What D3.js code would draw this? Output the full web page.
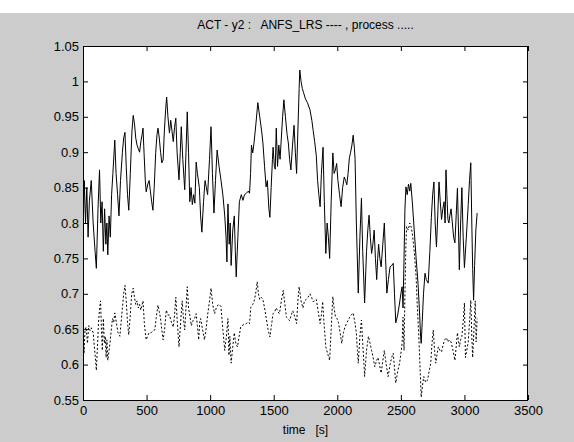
<!DOCTYPE html>
<html>
<head>
<meta charset="utf-8">
<script src="https://cdn.jsdelivr.net/npm/d3@7/dist/d3.min.js"></script>
<style>
  html, body { margin: 0; padding: 0; background: #ffffff; }
  svg { display: block; }
  text { font-family: "Liberation Sans", Arial, Helvetica, sans-serif; }
</style>
</head>
<body>
<svg id="chart" width="574" height="442"></svg>
<script>
// ---------- DATA ----------
const titleText = "ACT - y2 :   ANFS_LRS ---- , process .....";
const xLabelText = "time   [s]";
const xTicks = [0, 500, 1000, 1500, 2000, 2500, 3000, 3500];
const yTicks = [0.55, 0.6, 0.65, 0.7, 0.75, 0.8, 0.85, 0.9, 0.95, 1, 1.05];

// ANFS_LRS (solid) : [time, value]
const anfs = [[0,0.78],[10,0.86],[20,0.80],[30,0.85],[40,0.78],[50,0.83],[65,0.86],[80,0.80],[95,0.76],[105,0.736],[118,0.82],[130,0.875],[140,0.80],[150,0.83],[160,0.76],[170,0.82],[180,0.77],[188,0.80],[195,0.755],[205,0.81],[215,0.78],[225,0.84],[235,0.87],[250,0.917],[260,0.87],[272,0.84],[283,0.81],[295,0.86],[310,0.90],[320,0.92],[330,0.928],[340,0.88],[350,0.84],[360,0.818],[372,0.87],[385,0.93],[395,0.952],[405,0.94],[415,0.92],[425,0.91],[435,0.905],[445,0.90],[455,0.915],[465,0.925],[472,0.934],[480,0.90],[490,0.86],[497,0.844],[510,0.855],[520,0.86],[530,0.845],[540,0.83],[550,0.818],[560,0.85],[572,0.90],[582,0.925],[590,0.934],[600,0.92],[610,0.90],[620,0.885],[630,0.889],[640,0.93],[650,0.96],[658,0.978],[668,0.95],[680,0.927],[690,0.945],[700,0.93],[710,0.915],[720,0.935],[730,0.948],[740,0.90],[755,0.861],[765,0.90],[773,0.936],[785,0.89],[800,0.847],[810,0.90],[820,0.957],[830,0.90],[840,0.83],[850,0.85],[860,0.826],[870,0.84],[880,0.828],[890,0.886],[900,0.87],[915,0.85],[925,0.81],[935,0.787],[948,0.83],[960,0.86],[970,0.85],[980,0.84],[995,0.89],[1007,0.936],[1018,0.87],[1030,0.814],[1042,0.86],[1055,0.903],[1070,0.88],[1085,0.861],[1100,0.84],[1115,0.81],[1125,0.78],[1132,0.745],[1140,0.827],[1150,0.77],[1158,0.80],[1165,0.74],[1178,0.79],[1190,0.81],[1198,0.76],[1205,0.724],[1218,0.78],[1230,0.83],[1245,0.84],[1258,0.832],[1270,0.84],[1285,0.842],[1300,0.845],[1310,0.842],[1318,0.87],[1325,0.91],[1335,0.899],[1345,0.913],[1360,0.94],[1375,0.97],[1390,0.95],[1405,0.93],[1415,0.913],[1428,0.88],[1440,0.851],[1450,0.86],[1462,0.82],[1470,0.808],[1480,0.85],[1490,0.89],[1495,0.907],[1505,0.88],[1512,0.876],[1520,0.934],[1530,0.88],[1540,0.91],[1550,0.89],[1560,0.92],[1570,0.95],[1580,0.974],[1592,0.95],[1605,0.925],[1615,0.913],[1625,0.89],[1635,0.875],[1648,0.91],[1660,0.938],[1670,0.90],[1680,0.87],[1690,0.93],[1700,0.99],[1705,1.016],[1715,1.0],[1725,0.99],[1735,0.984],[1750,0.975],[1765,0.97],[1785,0.96],[1800,0.945],[1810,0.931],[1822,0.915],[1835,0.895],[1845,0.86],[1855,0.84],[1865,0.823],[1875,0.87],[1888,0.907],[1898,0.83],[1910,0.757],[1920,0.80],[1930,0.78],[1940,0.75],[1952,0.83],[1965,0.899],[1975,0.87],[1985,0.875],[1995,0.884],[2005,0.86],[2018,0.84],[2030,0.823],[2042,0.85],[2055,0.865],[2065,0.86],[2075,0.854],[2085,0.87],[2095,0.892],[2105,0.90],[2115,0.91],[2125,0.924],[2135,0.905],[2140,0.89],[2150,0.80],[2165,0.701],[2178,0.78],[2190,0.835],[2200,0.76],[2215,0.687],[2230,0.76],[2240,0.79],[2250,0.811],[2260,0.78],[2270,0.757],[2280,0.77],[2290,0.79],[2300,0.75],[2310,0.72],[2318,0.75],[2325,0.77],[2335,0.75],[2345,0.738],[2358,0.77],[2370,0.80],[2380,0.75],[2390,0.701],[2402,0.72],[2415,0.738],[2428,0.74],[2440,0.743],[2450,0.70],[2460,0.659],[2475,0.67],[2490,0.687],[2500,0.70],[2510,0.71],[2517,0.68],[2525,0.75],[2532,0.82],[2540,0.851],[2550,0.84],[2560,0.855],[2570,0.845],[2578,0.856],[2590,0.83],[2605,0.79],[2620,0.75],[2635,0.715],[2648,0.67],[2655,0.64],[2660,0.63],[2668,0.66],[2678,0.70],[2690,0.729],[2700,0.72],[2715,0.715],[2728,0.76],[2740,0.808],[2750,0.84],[2760,0.858],[2770,0.80],[2780,0.766],[2790,0.81],[2800,0.858],[2810,0.83],[2820,0.805],[2830,0.82],[2840,0.83],[2848,0.80],[2855,0.875],[2862,0.84],[2870,0.805],[2878,0.80],[2885,0.81],[2895,0.82],[2905,0.80],[2915,0.78],[2925,0.772],[2935,0.81],[2945,0.849],[2952,0.80],[2960,0.734],[2970,0.80],[2980,0.85],[2990,0.78],[3000,0.737],[3015,0.78],[3030,0.826],[3040,0.86],[3050,0.885],[3058,0.80],[3065,0.734],[3072,0.691],[3080,0.74],[3090,0.79],[3100,0.814]];

// process (dotted) : [time, value]
const proc = [[0,0.644],[8,0.616],[16,0.65],[25,0.653],[35,0.63],[45,0.655],[55,0.648],[65,0.652],[80,0.645],[92,0.62],[105,0.592],[115,0.63],[122,0.66],[130,0.677],[138,0.69],[145,0.65],[152,0.62],[160,0.665],[168,0.63],[175,0.64],[182,0.61],[188,0.635],[195,0.606],[205,0.62],[212,0.63],[220,0.645],[232,0.665],[242,0.66],[250,0.673],[262,0.66],[275,0.645],[290,0.64],[300,0.66],[310,0.68],[320,0.70],[330,0.712],[340,0.69],[350,0.66],[360,0.642],[372,0.67],[383,0.70],[395,0.708],[405,0.695],[415,0.685],[425,0.69],[435,0.68],[445,0.685],[455,0.677],[465,0.685],[472,0.69],[482,0.66],[490,0.645],[497,0.635],[508,0.64],[520,0.645],[535,0.645],[550,0.648],[565,0.649],[575,0.665],[590,0.684],[600,0.675],[610,0.665],[620,0.649],[630,0.635],[642,0.65],[655,0.677],[668,0.67],[680,0.67],[695,0.66],[710,0.653],[720,0.67],[730,0.695],[742,0.66],[755,0.625],[768,0.66],[780,0.69],[790,0.665],[800,0.649],[810,0.68],[820,0.71],[830,0.68],[840,0.67],[852,0.655],[865,0.662],[878,0.665],[890,0.672],[900,0.655],[910,0.635],[918,0.66],[925,0.665],[940,0.65],[955,0.635],[968,0.65],[980,0.67],[995,0.69],[1007,0.708],[1020,0.685],[1035,0.672],[1048,0.68],[1060,0.684],[1072,0.685],[1085,0.682],[1100,0.65],[1115,0.62],[1128,0.64],[1140,0.665],[1148,0.613],[1155,0.64],[1165,0.602],[1178,0.625],[1190,0.645],[1202,0.63],[1215,0.625],[1228,0.64],[1240,0.653],[1258,0.656],[1272,0.657],[1285,0.658],[1300,0.66],[1310,0.658],[1320,0.681],[1335,0.685],[1345,0.689],[1358,0.70],[1370,0.717],[1380,0.70],[1390,0.692],[1402,0.695],[1415,0.692],[1428,0.68],[1440,0.667],[1455,0.65],[1470,0.639],[1482,0.655],[1495,0.672],[1508,0.675],[1520,0.68],[1532,0.675],[1545,0.672],[1560,0.69],[1575,0.705],[1588,0.685],[1600,0.667],[1612,0.665],[1625,0.662],[1638,0.67],[1650,0.676],[1665,0.668],[1680,0.658],[1690,0.69],[1700,0.71],[1715,0.69],[1730,0.68],[1742,0.69],[1755,0.692],[1770,0.695],[1785,0.70],[1798,0.695],[1810,0.689],[1822,0.69],[1835,0.692],[1850,0.675],[1865,0.658],[1875,0.67],[1885,0.689],[1895,0.66],[1910,0.625],[1925,0.615],[1940,0.606],[1952,0.65],[1965,0.696],[1975,0.68],[1985,0.668],[1998,0.665],[2010,0.659],[2022,0.645],[2035,0.63],[2048,0.645],[2060,0.653],[2078,0.66],[2095,0.666],[2110,0.67],[2125,0.673],[2138,0.66],[2150,0.645],[2158,0.62],[2165,0.602],[2178,0.64],[2190,0.663],[2200,0.63],[2210,0.60],[2215,0.583],[2230,0.62],[2245,0.64],[2258,0.63],[2270,0.62],[2282,0.61],[2295,0.597],[2308,0.605],[2320,0.61],[2332,0.60],[2345,0.588],[2358,0.605],[2370,0.62],[2385,0.60],[2400,0.583],[2415,0.60],[2428,0.61],[2440,0.616],[2450,0.595],[2460,0.574],[2475,0.59],[2490,0.602],[2500,0.615],[2510,0.63],[2517,0.667],[2525,0.62],[2532,0.70],[2540,0.77],[2545,0.795],[2558,0.79],[2570,0.80],[2580,0.795],[2590,0.786],[2605,0.76],[2620,0.724],[2630,0.68],[2640,0.645],[2650,0.60],[2660,0.554],[2670,0.57],[2680,0.583],[2695,0.575],[2710,0.578],[2722,0.59],[2735,0.602],[2745,0.63],[2755,0.649],[2765,0.62],[2775,0.602],[2785,0.615],[2795,0.625],[2808,0.62],[2820,0.618],[2832,0.628],[2845,0.635],[2858,0.638],[2870,0.632],[2882,0.635],[2895,0.632],[2910,0.62],[2925,0.606],[2935,0.625],[2945,0.645],[2952,0.635],[2960,0.625],[2970,0.635],[2980,0.64],[2990,0.66],[3000,0.687],[3008,0.61],[3018,0.62],[3030,0.632],[3040,0.66],[3050,0.691],[3058,0.64],[3065,0.61],[3075,0.65],[3085,0.69],[3092,0.632],[3100,0.665]];

// ---------- LAYOUT ----------
const W = 574, H = 442;
const figTop = 13;
const plot = { left: 83, top: 46, right: 528, bottom: 400 };

const svg = d3.select("#chart");

// figure background
svg.append("rect").attr("x", 0).attr("y", figTop)
  .attr("width", W).attr("height", H - figTop).attr("fill", "#cccccc");

// axes background
svg.append("rect").attr("x", plot.left).attr("y", plot.top)
  .attr("width", plot.right - plot.left).attr("height", plot.bottom - plot.top)
  .attr("fill", "#ffffff");

const x = d3.scaleLinear().domain([0, 3500]).range([plot.left, plot.right]);
const y = d3.scaleLinear().domain([0.55, 1.05]).range([plot.bottom, plot.top]);

const line = d3.line().x(d => x(d[0])).y(d => y(d[1]));

svg.append("clipPath").attr("id", "clip").append("rect")
  .attr("x", plot.left).attr("y", plot.top)
  .attr("width", plot.right - plot.left).attr("height", plot.bottom - plot.top);

const g = svg.append("g").attr("clip-path", "url(#clip)");

g.append("path").datum(anfs).attr("d", line)
  .attr("fill", "none").attr("stroke", "#000").attr("stroke-width", 1);

g.append("path").datum(proc).attr("d", line)
  .attr("fill", "none").attr("stroke", "#000").attr("stroke-width", 1)
  .attr("stroke-dasharray", "2,2");

// axes
const tickLen = 5;
const fontSize = 13;
const titleSize = 12;

const axB = svg.append("g").attr("transform", `translate(0,${plot.bottom})`)
  .call(d3.axisBottom(x).tickValues(xTicks).tickSize(-tickLen).tickPadding(6).tickFormat(d3.format("d")));
const axT = svg.append("g").attr("transform", `translate(0,${plot.top})`)
  .call(d3.axisTop(x).tickValues(xTicks).tickSize(-tickLen).tickFormat(""));
const axL = svg.append("g").attr("transform", `translate(${plot.left},0)`)
  .call(d3.axisLeft(y).tickValues(yTicks).tickSize(-tickLen).tickPadding(4).tickFormat(d => d3.format("")(+d.toFixed(2))));
const axR = svg.append("g").attr("transform", `translate(${plot.right},0)`)
  .call(d3.axisRight(y).tickValues(yTicks).tickSize(-tickLen).tickFormat(""));

[axB, axT, axL, axR].forEach(a => {
  a.select(".domain").remove();
  a.selectAll(".tick line").attr("stroke", "#000");
  a.selectAll(".tick text").attr("fill", "#000").style("font-size", fontSize + "px")
    .style("font-family", '"Liberation Sans", Arial, Helvetica, sans-serif');
});
axB.selectAll(".tick text").attr("dy", "0.71em");

// frame
svg.append("rect").attr("x", plot.left + 0.5).attr("y", plot.top + 0.5)
  .attr("width", plot.right - plot.left - 1).attr("height", plot.bottom - plot.top)
  .attr("fill", "none").attr("stroke", "#000").attr("stroke-width", 1);

// title
svg.append("text").attr("x", (plot.left + plot.right) / 2).attr("y", 29)
  .attr("text-anchor", "middle").style("font-size", titleSize + "px").attr("fill", "#000")
  .style("white-space", "pre")
  .text(titleText);

// x label
svg.append("text").attr("x", (plot.left + plot.right) / 2).attr("y", 434)
  .attr("text-anchor", "middle").style("font-size", titleSize + "px").attr("fill", "#000")
  .style("white-space", "pre")
  .text(xLabelText);
</script>
</body>
</html>
